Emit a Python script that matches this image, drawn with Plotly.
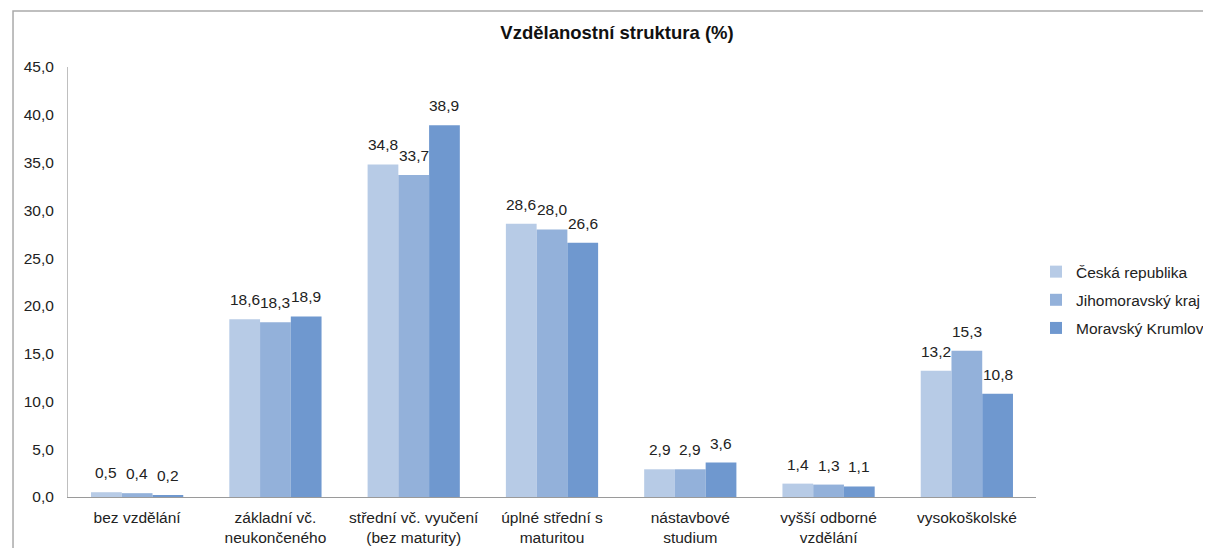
import plotly.graph_objects as go

categories = ["bez vzdělání", "základní vč.<br>neukončeného", "střední vč. vyučení<br>(bez maturity)",
              "úplné střední s<br>maturitou", "nástavbové<br>studium", "vyšší odborné<br>vzdělání", "vysokoškolské"]
series_names = ["Česká republika", "Jihomoravský kraj", "Moravský Krumlov"]
cz = [0.5, 18.6, 34.8, 28.6, 2.9, 1.4, 13.2]
jmk = [0.4, 18.3, 33.7, 28.0, 2.9, 1.3, 15.3]
mk = [0.2, 18.9, 38.9, 26.6, 3.6, 1.1, 10.8]
colors = ["#B7CBE6", "#93B1DA", "#6F98CF"]

W, H = 1240, 548
L, T, PW, PH = 60, 59, 968, 430
BARGAP = 0.333
bar_px = PW / len(categories) * (1 - BARGAP) / 3

fig = go.Figure()
annotations = []
for i, (name, vals, col) in enumerate(zip(series_names, [cz, jmk, mk], colors)):
    fig.add_trace(go.Bar(
        x=categories, y=vals, name=name, legendgroup=f"g{i}",
        marker=dict(color=col, line=dict(width=0)),
    ))
    for c, v in zip(categories, vals):
        annotations.append(dict(
            x=c, y=v, xref="x", yref="y", text=f"{v:.1f}".replace(".", ","),
            showarrow=False, yanchor="bottom", xanchor="center",
            xshift=(i - 1) * bar_px, yshift=9,
            font=dict(size=15.5, color="#222222"),
        ))

fig.update_layout(
    width=W, height=H,
    margin=dict(l=L, r=W - L - PW, t=T, b=H - T - PH, autoexpand=False),
    paper_bgcolor="white", plot_bgcolor="white",
    separators=",.",
    font=dict(family="Liberation Sans, Arial, sans-serif", size=15.5, color="#222222"),
    title=dict(text="<b>Vzdělanostní struktura (%)</b>", x=609 / W, xanchor="center",
               y=1 - 25 / H, yanchor="middle", font=dict(size=18.5, color="#111111")),
    barmode="group", bargap=BARGAP, bargroupgap=0,
    showlegend=True,
    legend=dict(x=1.0, y=0.458, xanchor="left", yanchor="middle",
                font=dict(size=15.5), tracegroupgap=5, itemwidth=30),
    xaxis=dict(showline=True, linecolor="#9a9a9a", linewidth=1, ticks="",
               tickfont=dict(size=15.5), showgrid=False, ticklabelstandoff=6),
    yaxis=dict(range=[0, 45], dtick=5, tickformat=".1f", showline=True, linecolor="#bfbfbf",
               linewidth=1, showgrid=False, ticks="", zeroline=False, tickfont=dict(size=15.5),
               ticklabelstandoff=10),
    annotations=annotations,
    shapes=[dict(type="rect", xref="paper", yref="paper", x0=-0.0568, x1=2, y0=-1, y1=1.130,
                 line=dict(color="#aaaaaa", width=1.5), fillcolor="rgba(0,0,0,0)", layer="below")],
)

fig.write_html("out.html")
